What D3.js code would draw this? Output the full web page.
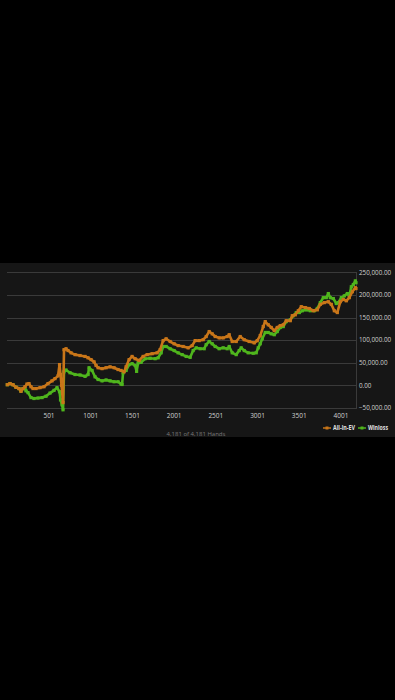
<!DOCTYPE html>
<html>
<head>
<meta charset="utf-8">
<script src="https://cdn.jsdelivr.net/npm/d3@7"></script>
<style>
  html, body { margin: 0; padding: 0; background: #000; }
  svg { display: block; }
  text { font-family: "Open Sans", "DejaVu Sans", sans-serif; }
</style>
</head>
<body>
<div id="chart"></div>
<script>
// hands sampled along the session, with cumulative results
const evHands = [1, 33, 69, 105, 141, 165, 189, 213, 237, 261, 285, 309, 345, 393, 441, 489, 537, 573, 609, 627, 639, 651, 669, 681, 705, 729, 765, 813, 873, 933, 969, 1005, 1041, 1065, 1089, 1137, 1185, 1233, 1281, 1329, 1365, 1401, 1425, 1461, 1497, 1533, 1581, 1629, 1677, 1737, 1797, 1833, 1869, 1905, 1953, 2001, 2049, 2109, 2169, 2217, 2253, 2301, 2349, 2385, 2421, 2457, 2493, 2541, 2589, 2637, 2661, 2697, 2745, 2793, 2841, 2901, 2961, 2997, 3033, 3069, 3093, 3129, 3165, 3201, 3237, 3273, 3309, 3345, 3393, 3417, 3453, 3489, 3525, 3573, 3621, 3669, 3717, 3753, 3801, 3849, 3885, 3921, 3957, 3993, 4029, 4065, 4101, 4137, 4173, 4181];
const evValues = [1500, 4000, 1500, -4000, -7000, -13000, -7000, -3000, 3000, 4000, -3000, -7000, -7000, -5000, -3000, 4000, 10000, 15000, 21000, 46000, 24000, 0, -38000, 79000, 81000, 77000, 72000, 68000, 66000, 64000, 61000, 57000, 52000, 44000, 39000, 37000, 39000, 41000, 39000, 35000, 33000, 30000, 41000, 57000, 64000, 59000, 55000, 64000, 68000, 70000, 72000, 79000, 99000, 103000, 97000, 92000, 88000, 86000, 83000, 88000, 99000, 99000, 101000, 108000, 119000, 114000, 108000, 105000, 105000, 108000, 112000, 97000, 97000, 108000, 101000, 97000, 94000, 99000, 110000, 130000, 141000, 134000, 128000, 121000, 128000, 132000, 134000, 143000, 143000, 154000, 156000, 165000, 174000, 172000, 170000, 165000, 167000, 179000, 183000, 185000, 179000, 165000, 161000, 185000, 190000, 187000, 194000, 207000, 216000, 214000];

const wlHands = [1, 33, 69, 105, 141, 165, 189, 213, 225, 249, 285, 321, 369, 417, 465, 513, 561, 597, 627, 639, 657, 669, 681, 705, 753, 813, 873, 933, 969, 981, 1017, 1053, 1089, 1137, 1185, 1233, 1281, 1329, 1365, 1377, 1389, 1425, 1461, 1497, 1533, 1551, 1569, 1605, 1653, 1713, 1773, 1809, 1845, 1869, 1905, 1953, 2001, 2049, 2097, 2145, 2193, 2229, 2265, 2313, 2361, 2385, 2421, 2457, 2493, 2541, 2589, 2637, 2661, 2697, 2745, 2781, 2805, 2841, 2889, 2949, 2985, 3009, 3033, 3057, 3093, 3129, 3165, 3201, 3237, 3273, 3309, 3345, 3393, 3429, 3465, 3501, 3537, 3585, 3633, 3681, 3717, 3753, 3789, 3825, 3849, 3873, 3909, 3945, 3969, 4005, 4041, 4077, 4101, 4125, 4149, 4173, 4181];
const wlValues = [1500, 4000, 1500, -4000, -7000, -13000, -7000, -7000, -12000, -16000, -27000, -29000, -28000, -27000, -24000, -17000, -11000, -5000, -14000, -32000, -43000, -54000, 30000, 34000, 28000, 24000, 23000, 20000, 24000, 39000, 33000, 19000, 13000, 10000, 12000, 10000, 8000, 8000, 3000, 2000, 28000, 33000, 46000, 48000, 44000, 31000, 50000, 51000, 59000, 60000, 59000, 61000, 72000, 86000, 86000, 81000, 77000, 72000, 68000, 64000, 62000, 77000, 83000, 81000, 81000, 90000, 97000, 92000, 86000, 81000, 83000, 81000, 86000, 72000, 68000, 77000, 83000, 77000, 72000, 71000, 72000, 83000, 92000, 103000, 117000, 117000, 114000, 112000, 119000, 128000, 130000, 141000, 145000, 154000, 161000, 161000, 165000, 167000, 165000, 165000, 170000, 183000, 194000, 194000, 203000, 194000, 192000, 181000, 183000, 194000, 198000, 203000, 198000, 218000, 223000, 231000, 227000];

const xTicks = [501, 1001, 1501, 2001, 2501, 3001, 3501, 4001];
const yTicks = [-50000, 0, 50000, 100000, 150000, 200000, 250000];
const seriesNames = ["All-in-EV", "Winloss"];
const seriesColors = ["#c97619", "#4fb51d"];
const totalHands = 4181;

const W = 395, H = 700;
const svg = d3.select("#chart").append("svg").attr("width", W).attr("height", H);

svg.append("rect").attr("x", 0).attr("y", 263).attr("width", W).attr("height", 174).attr("fill", "#161616");

const x = d3.scaleLinear().domain([1, totalHands]).range([7.3, 356]);
const y = d3.scaleLinear().domain([-50000, 250000]).range([408, 272.3]);

// grid
svg.append("g").selectAll("line").data(yTicks).join("line")
    .attr("x1", 7).attr("x2", 356)
    .attr("y1", d => Math.round(y(d)) + 0.5).attr("y2", d => Math.round(y(d)) + 0.5)
    .attr("stroke", "#3a3a3a").attr("stroke-width", 1);

svg.append("line").attr("x1", 356.5).attr("x2", 356.5).attr("y1", 272).attr("y2", 409)
    .attr("stroke", "#3a3a3a");

// y labels
const fmt = d3.format(",.2f");
svg.append("g").selectAll("text").data(yTicks).join("text")
    .attr("x", 359).attr("y", d => y(d) + 2.3)
    .attr("font-size", 6.3).attr("fill", "#d0d0d0")
    .text(d => fmt(d));

// x labels
svg.append("g").selectAll("text").data(xTicks).join("text")
    .attr("x", d => x(d)).attr("y", 418)
    .attr("text-anchor", "middle")
    .attr("font-size", 6.5).attr("fill", "#d0d0d0")
    .text(d => d);

svg.append("text").attr("x", 196).attr("y", 435.5).attr("text-anchor", "middle")
    .attr("font-size", 6).attr("fill", "#7a7a7a")
    .text(`${d3.format(",")(totalHands)} of ${d3.format(",")(totalHands)} Hands`);

const line = d3.line().x(d => x(d[0])).y(d => y(d[1]));

function drawSeries(hands, values, color) {
    const pts = hands.map((h, i) => [h, values[i]]);
    svg.append("path").datum(pts)
        .attr("d", line)
        .attr("fill", "none").attr("stroke", color)
        .attr("stroke-width", 2.6).attr("stroke-linejoin", "round");
    svg.append("g").selectAll("rect").data(pts).join("rect")
        .attr("x", d => x(d[0]) - 1.6).attr("y", d => y(d[1]) - 1.6)
        .attr("width", 3.2).attr("height", 3.2).attr("fill", color);
}

drawSeries(wlHands, wlValues, seriesColors[1]);
drawSeries(evHands, evValues, seriesColors[0]);

// legend
const legendX = [323, 358];
const legendW = [22, 20];
seriesNames.forEach((name, i) => {
    const g = svg.append("g").attr("transform", `translate(${legendX[i]},428)`);
    g.append("line").attr("x1", 0).attr("x2", 8).attr("y1", 0).attr("y2", 0)
        .attr("stroke", seriesColors[i]).attr("stroke-width", 1.5);
    g.append("rect").attr("x", 2.5).attr("y", -1.5).attr("width", 3).attr("height", 3)
        .attr("fill", seriesColors[i]);
    g.append("text").attr("x", 10).attr("y", 2.3)
        .attr("font-size", 6.2).attr("font-weight", "bold").attr("fill", "#e0e0e0")
        .attr("textLength", legendW[i]).attr("lengthAdjust", "spacingAndGlyphs")
        .text(name);
});
</script>
</body>
</html>
